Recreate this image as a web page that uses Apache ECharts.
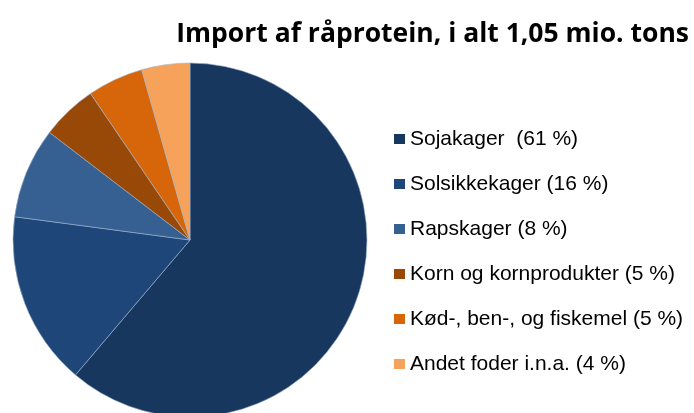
<!DOCTYPE html>
<html lang="da">
<head>
  <meta charset="utf-8" />
  <title>Import af råprotein</title>
  <style>
    html, body { margin: 0; padding: 0; background: #fff; }
    #chart { width: 694px; height: 413px; }
  </style>
  <script src="https://cdn.jsdelivr.net/npm/echarts@6.0.0/dist/echarts.min.js"></script>
</head>
<body>
  <div id="chart"></div>
<script type="text/javascript">
    // categories and shares (percent)
    var names = [
        'Sojakager  (61 %)',
        'Solsikkekager (16 %)',
        'Rapskager (8 %)',
        'Korn og kornprodukter (5 %)',
        'Kød-, ben-, og fiskemel (5 %)',
        'Andet foder i.n.a. (4 %)'
    ];
    var shares = [61.2, 15.9, 8.3, 5.1, 5.1, 4.4];
    var colors = ['#17375E', '#1F4678', '#366092', '#984807', '#D7660A', '#F6A25A'];

    var myChart = echarts.init(document.getElementById('chart'));

    var pieData = [];
    for (var i = 0; i < names.length; i++) {
        pieData.push({ name: names[i], value: shares[i] });
    }

    var option = {
        color: colors,
        animation: false,
        title: {
            text: 'Import af råprotein, i alt 1,05 mio. tons',
            right: 0,
            top: 16,
            textStyle: {
                fontFamily: 'Open Sans',
                fontWeight: 'bold',
                fontSize: 26.5,
                color: '#000'
            }
        },
        legend: {
            orient: 'vertical',
            left: 389,
            top: 123,
            itemWidth: 11,
            itemHeight: 10,
            itemGap: 23,
            icon: 'rect',
            selectedMode: false,
            itemStyle: { borderWidth: 0 },
            textStyle: {
                fontFamily: 'Liberation Sans',
                fontSize: 21,
                lineHeight: 22,
                color: '#000'
            }
        },
        series: [{
            type: 'pie',
            center: [190, 240],
            radius: 177,
            startAngle: 90,
            clockwise: true,
            label: { show: false },
            labelLine: { show: false },
            itemStyle: {
                borderColor: '#9fb3cc',
                borderWidth: 0.6
            },
            emphasis: { disabled: true },
            data: pieData
        }]
    };
    myChart.setOption(option);
</script>
</body>
</html>
